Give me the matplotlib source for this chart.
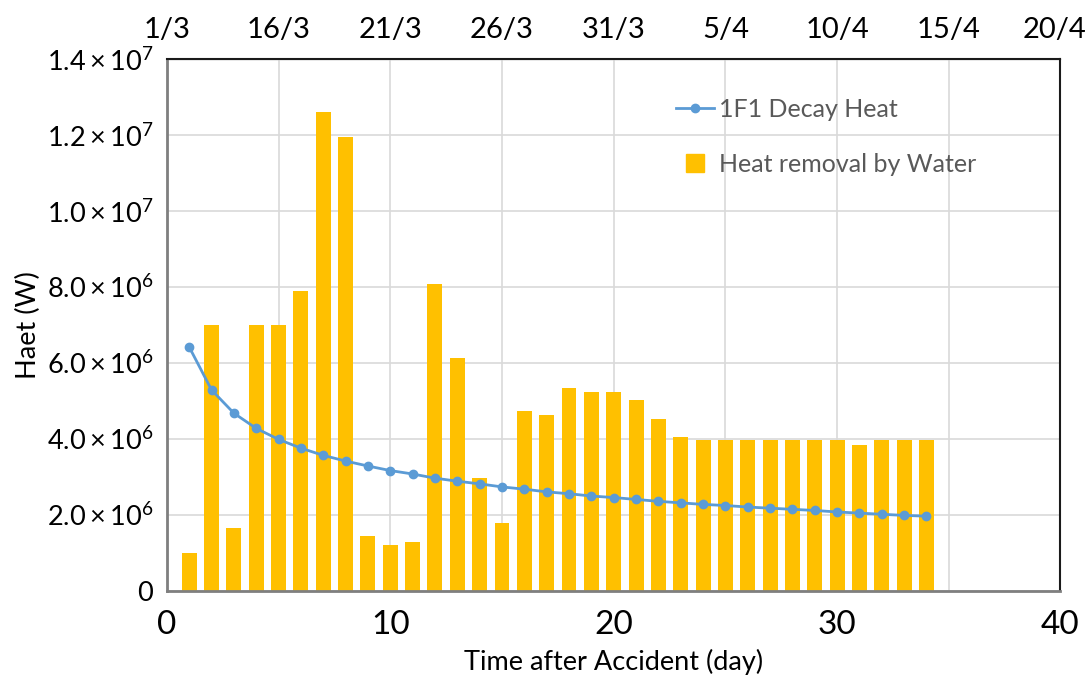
import numpy as np
import matplotlib
matplotlib.use('Agg')
from matplotlib import pyplot as plt
from matplotlib.lines import Line2D
from matplotlib.transforms import ScaledTranslation

plt.rcParams['font.family'] = ['Lato', 'DejaVu Sans']
plt.rcParams['mathtext.fontset'] = 'custom'
plt.rcParams['mathtext.rm'] = 'Lato'
plt.rcParams['mathtext.it'] = 'Lato'

# data
days = list(range(1, 35))
water_heat = [1.0e6, 7.0e6, 1.66e6, 7.0e6, 7.0e6, 7.9e6, 12.6e6, 11.95e6, 1.45e6, 1.2e6,
              1.3e6, 8.08e6, 6.13e6, 2.97e6, 1.8e6, 4.74e6, 4.63e6, 5.34e6, 5.24e6, 5.24e6,
              5.03e6, 4.53e6, 4.05e6, 3.97e6, 3.97e6, 3.97e6, 3.97e6, 3.97e6, 3.97e6, 3.97e6,
              3.84e6, 3.97e6, 3.97e6, 3.97e6]
decay_heat = [6.42e6, 5.29e6, 4.68e6, 4.28e6, 3.99e6, 3.76e6, 3.57e6, 3.42e6, 3.29e6, 3.17e6,
              3.08e6, 2.97e6, 2.89e6, 2.82e6, 2.74e6, 2.68e6, 2.61e6, 2.56e6, 2.50e6, 2.46e6,
              2.41e6, 2.36e6, 2.32e6, 2.28e6, 2.25e6, 2.21e6, 2.18e6, 2.15e6, 2.12e6, 2.08e6,
              2.05e6, 2.02e6, 1.99e6, 1.97e6]

x_ticks = [0, 10, 20, 30, 40]
date_ticks = [0, 5, 10, 15, 20, 25, 30, 35, 40]
date_labels = ['1/3', '16/3', '21/3', '26/3', '31/3', '5/4', '10/4', '15/4', '20/4']
y_ticks = [0, 2e6, 4e6, 6e6, 8e6, 1.0e7, 1.2e7, 1.4e7]
y_labels = ['0', r'$2.0\times10^{6}$', r'$4.0\times10^{6}$', r'$6.0\times10^{6}$',
            r'$8.0\times10^{6}$', r'$1.0\times10^{7}$', r'$1.2\times10^{7}$', r'$1.4\times10^{7}$']

bar_color = '#FFC000'
line_color = '#5B9BD5'

fig = plt.figure(figsize=(10.91, 6.88), dpi=100)
ax = fig.add_axes([0.153, 0.141, 0.819, 0.773])

ax.bar(days, water_heat, width=0.67, color=bar_color, zorder=2)
ax.plot(days, decay_heat, color=line_color, lw=2, marker='o', ms=6, zorder=3)

ax.set_xlim(0, 40)
ax.set_ylim(0, 1.4e7)
ax.set_xticks(x_ticks)
ax.set_xticks(date_ticks, minor=True)
ax.set_yticks(y_ticks)
ax.set_yticklabels(y_labels)
ax.tick_params(axis='x', labelsize=24, length=0, pad=14, which='both')
ax.tick_params(axis='y', labelsize=19.5, length=0, pad=10)
ax.grid(True, which='both', color='#d9d9d9', lw=1.2, zorder=0)
ax.set_axisbelow(True)

for s in ['top', 'right']:
    ax.spines[s].set_color('#1a1a1a')
    ax.spines[s].set_linewidth(1.5)
for s in ['left', 'bottom']:
    ax.spines[s].set_color('#7f7f7f')
    ax.spines[s].set_linewidth(2)

top = ax.secondary_xaxis('top')
top.set_xticks(date_ticks)
top.set_xticklabels(date_labels)
top.tick_params(labelsize=21, length=0, pad=12)
# keep the last date inside the figure
last = top.get_xticklabels()[-1]
last.set_transform(last.get_transform() + ScaledTranslation(-4 / 72, 0, fig.dpi_scale_trans))

ax.set_xlabel('Time after Accident (day)', fontsize=19.5, labelpad=6)
ax.set_ylabel('Haet (W)', fontsize=19.5, labelpad=4)

handles = [Line2D([], [], color=line_color, lw=2, marker='o', ms=6),
           Line2D([], [], color=bar_color, ls='none', marker='s', ms=13)]
ax.legend(handles, ['1F1 Decay Heat', 'Heat removal by Water'],
          loc='upper left', bbox_to_anchor=(0.545, 0.97), frameon=False,
          fontsize=18, labelspacing=1.3, handlelength=1.5, handletextpad=0.2,
          labelcolor='#595959')

fig.savefig('out.png', dpi=100)
